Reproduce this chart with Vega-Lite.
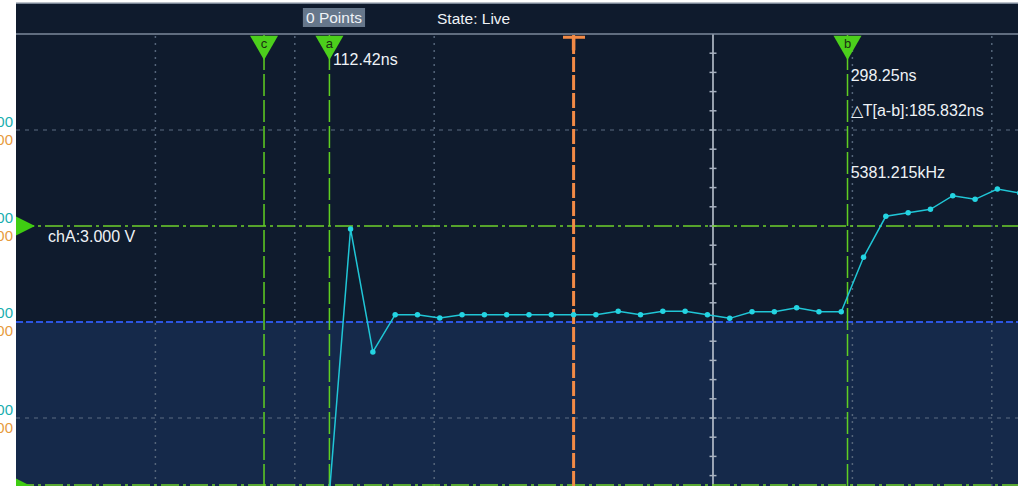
{
  "$schema": "https://vega.github.io/schema/vega-lite/v6.json",
  "width": 1002,
  "height": 483,
  "autosize": "none",
  "padding": {"left": 16, "top": 3, "right": 7, "bottom": 0},
  "background": "#ffffff",
  "config": {"view": {"fill": "#0f1b2d", "stroke": null}, "font": "Liberation Sans"},
  "datasets": {
    "signal": [
      {"t": 112, "v": 0.0625}, {"t": 120, "v": 2.969}, {"t": 128, "v": 1.6875}, {"t": 136, "v": 2.076},
      {"t": 144, "v": 2.076}, {"t": 152, "v": 2.042}, {"t": 160, "v": 2.076}, {"t": 168, "v": 2.076},
      {"t": 176, "v": 2.076}, {"t": 184, "v": 2.076}, {"t": 192, "v": 2.076}, {"t": 200, "v": 2.076},
      {"t": 208, "v": 2.076}, {"t": 216, "v": 2.111}, {"t": 224, "v": 2.076}, {"t": 232, "v": 2.111},
      {"t": 240, "v": 2.111}, {"t": 248, "v": 2.076}, {"t": 256, "v": 2.038}, {"t": 264, "v": 2.107},
      {"t": 272, "v": 2.107}, {"t": 280, "v": 2.149}, {"t": 288, "v": 2.107}, {"t": 296, "v": 2.107},
      {"t": 304, "v": 2.674}, {"t": 312, "v": 3.101}, {"t": 320, "v": 3.139}, {"t": 328, "v": 3.174},
      {"t": 336, "v": 3.316}, {"t": 344, "v": 3.278}, {"t": 352, "v": 3.385}, {"t": 360, "v": 3.344}
    ],
    "grid_t": [{"t": 50}, {"t": 100}, {"t": 150}, {"t": 300}, {"t": 350}],
    "grid_v": [{"v": 1}, {"v": 4}],
    "minor": [
      {"v": 0.4}, {"v": 0.6}, {"v": 0.8}, {"v": 1.0}, {"v": 1.2}, {"v": 1.4}, {"v": 1.6}, {"v": 1.8},
      {"v": 2.0}, {"v": 2.2}, {"v": 2.4}, {"v": 2.6}, {"v": 2.8}, {"v": 3.0}, {"v": 3.2}, {"v": 3.4},
      {"v": 3.6}, {"v": 3.8}, {"v": 4.0}, {"v": 4.2}, {"v": 4.4}, {"v": 4.6}, {"v": 4.8}
    ],
    "cursors": [{"label": "c", "t": 88.96}, {"label": "a", "t": 112.42}, {"label": "b", "t": 298.25}],
    "notes": [
      {"t": 113.7, "v": 4.729, "label": "112.42ns"},
      {"t": 299.4, "v": 4.5625, "label": "298.25ns"},
      {"t": 299.4, "v": 4.198, "label": "△T[a-b]:185.832ns"},
      {"t": 299.4, "v": 3.557, "label": "5381.215kHz"},
      {"t": 11.5, "v": 2.885, "label": "chA:3.000 V"}
    ],
    "header": [
      {"t": 104.0, "v": 5.165, "label": "0 Points"},
      {"t": 151.0, "v": 5.158, "label": "State: Live"}
    ],
    "labels_a": [
      {"v": 4.083, "label": "4.000"}, {"v": 3.083, "label": "3.000"},
      {"v": 2.094, "label": "2.000"}, {"v": 1.083, "label": "1.000"}
    ],
    "labels_b": [
      {"v": 3.896, "label": "4.000"}, {"v": 2.896, "label": "3.000"},
      {"v": 1.906, "label": "2.000"}, {"v": 0.896, "label": "1.000"}
    ]
  },
  "layer": [
    {
      "data": {"values": [{}]},
      "mark": {"type": "rect", "fill": "#15294a"},
      "encoding": {
        "x": {"datum": 0, "type": "quantitative", "scale": {"domain": [0, 359.4], "nice": false, "zero": false}, "axis": null},
        "x2": {"datum": 359.4},
        "y": {"datum": 0.29167, "type": "quantitative", "scale": {"domain": [0.29167, 5.32292], "nice": false, "zero": false}, "axis": null},
        "y2": {"datum": 2}
      }
    },
    {
      "data": {"name": "grid_t"},
      "mark": {"type": "rule", "stroke": "#55657a", "strokeWidth": 1.5, "strokeDash": [2, 5]},
      "encoding": {
        "x": {"field": "t", "type": "quantitative", "scale": {"domain": [0, 359.4], "nice": false, "zero": false}, "axis": null},
        "y": {"datum": 0.29167, "type": "quantitative", "scale": {"domain": [0.29167, 5.32292], "nice": false, "zero": false}, "axis": null},
        "y2": {"datum": 5.0}
      }
    },
    {
      "data": {"name": "grid_v"},
      "mark": {"type": "rule", "stroke": "#5d6d82", "strokeWidth": 1, "strokeDash": [4, 5]},
      "encoding": {
        "x": {"datum": 0, "type": "quantitative", "scale": {"domain": [0, 359.4], "nice": false, "zero": false}, "axis": null},
        "x2": {"datum": 359.4},
        "y": {"field": "v", "type": "quantitative", "scale": {"domain": [0.29167, 5.32292], "nice": false, "zero": false}, "axis": null}
      }
    },
    {
      "data": {"values": [{}]},
      "mark": {"type": "rule", "stroke": "#c5cdd8", "strokeWidth": 1.5},
      "encoding": {
        "x": {"datum": 250, "type": "quantitative", "scale": {"domain": [0, 359.4], "nice": false, "zero": false}, "axis": null},
        "y": {"datum": 0.29167, "type": "quantitative", "scale": {"domain": [0.29167, 5.32292], "nice": false, "zero": false}, "axis": null},
        "y2": {"datum": 5.0}
      }
    },
    {
      "data": {"name": "minor"},
      "mark": {"type": "rule", "stroke": "#a9b3c1", "strokeWidth": 1.5},
      "encoding": {
        "x": {"datum": 248.75, "type": "quantitative", "scale": {"domain": [0, 359.4], "nice": false, "zero": false}, "axis": null},
        "x2": {"datum": 251.25},
        "y": {"field": "v", "type": "quantitative", "scale": {"domain": [0.29167, 5.32292], "nice": false, "zero": false}, "axis": null}
      }
    },
    {
      "data": {"values": [{}]},
      "mark": {"type": "rule", "stroke": "#7d8a9b", "strokeWidth": 1.5},
      "encoding": {
        "x": {"datum": 0, "type": "quantitative", "scale": {"domain": [0, 359.4], "nice": false, "zero": false}, "axis": null},
        "x2": {"datum": 359.4},
        "y": {"datum": 5.0, "type": "quantitative", "scale": {"domain": [0.29167, 5.32292], "nice": false, "zero": false}, "axis": null}
      }
    },
    {
      "data": {"values": [{}]},
      "mark": {"type": "rule", "stroke": "#7a8696", "strokeWidth": 1.5},
      "encoding": {
        "x": {"datum": 0, "type": "quantitative", "scale": {"domain": [0, 359.4], "nice": false, "zero": false}, "axis": null},
        "x2": {"datum": 359.4},
        "y": {"datum": 5.3195, "type": "quantitative", "scale": {"domain": [0.29167, 5.32292], "nice": false, "zero": false}, "axis": null}
      }
    },
    {
      "data": {"values": [{}]},
      "mark": {"type": "rule", "stroke": "#2c55e3", "strokeWidth": 2, "strokeDash": [7, 3]},
      "encoding": {
        "x": {"datum": 0, "type": "quantitative", "scale": {"domain": [0, 359.4], "nice": false, "zero": false}, "axis": null},
        "x2": {"datum": 359.4},
        "y": {"datum": 2, "type": "quantitative", "scale": {"domain": [0.29167, 5.32292], "nice": false, "zero": false}, "axis": null}
      }
    },
    {
      "data": {"values": [{"v": 3}, {"v": 0.302}]},
      "mark": {"type": "rule", "stroke": "#6fd12b", "strokeWidth": 1.5, "strokeDash": [18, 4, 3, 4]},
      "encoding": {
        "x": {"datum": 0, "type": "quantitative", "scale": {"domain": [0, 359.4], "nice": false, "zero": false}, "axis": null},
        "x2": {"datum": 359.4},
        "y": {"field": "v", "type": "quantitative", "scale": {"domain": [0.29167, 5.32292], "nice": false, "zero": false}, "axis": null}
      }
    },
    {
      "data": {"name": "cursors"},
      "mark": {"type": "rule", "stroke": "#5fcf22", "strokeWidth": 1.5, "strokeDash": [22, 4]},
      "encoding": {
        "x": {"field": "t", "type": "quantitative", "scale": {"domain": [0, 359.4], "nice": false, "zero": false}, "axis": null},
        "y": {"datum": 0.29167, "type": "quantitative", "scale": {"domain": [0.29167, 5.32292], "nice": false, "zero": false}, "axis": null},
        "y2": {"datum": 4.99}
      }
    },
    {
      "data": {"values": [{}]},
      "mark": {"type": "rule", "stroke": "#f28a46", "strokeWidth": 3, "strokeDash": [15, 3]},
      "encoding": {
        "x": {"datum": 200, "type": "quantitative", "scale": {"domain": [0, 359.4], "nice": false, "zero": false}, "axis": null},
        "y": {"datum": 0.29167, "type": "quantitative", "scale": {"domain": [0.29167, 5.32292], "nice": false, "zero": false}, "axis": null},
        "y2": {"datum": 4.99}
      }
    },
    {
      "data": {"values": [{}]},
      "mark": {"type": "rule", "stroke": "#f28a46", "strokeWidth": 3},
      "encoding": {
        "x": {"datum": 196.2, "type": "quantitative", "scale": {"domain": [0, 359.4], "nice": false, "zero": false}, "axis": null},
        "x2": {"datum": 204.1},
        "y": {"datum": 4.966, "type": "quantitative", "scale": {"domain": [0.29167, 5.32292], "nice": false, "zero": false}, "axis": null}
      }
    },
    {
      "data": {"values": [{}]},
      "mark": {"type": "rule", "stroke": "#f28a46", "strokeWidth": 3.5},
      "encoding": {
        "x": {"datum": 200, "type": "quantitative", "scale": {"domain": [0, 359.4], "nice": false, "zero": false}, "axis": null},
        "y": {"datum": 4.83, "type": "quantitative", "scale": {"domain": [0.29167, 5.32292], "nice": false, "zero": false}, "axis": null},
        "y2": {"datum": 4.98}
      }
    },
    {
      "data": {"name": "cursors"},
      "mark": {"type": "point", "shape": "triangle-down", "filled": true, "fill": "#4ccf1c", "opacity": 1, "size": 784, "strokeWidth": 0},
      "encoding": {
        "x": {"field": "t", "type": "quantitative", "scale": {"domain": [0, 359.4], "nice": false, "zero": false}, "axis": null},
        "y": {"datum": 4.856, "type": "quantitative", "scale": {"domain": [0.29167, 5.32292], "nice": false, "zero": false}, "axis": null}
      }
    },
    {
      "data": {"name": "cursors"},
      "mark": {"type": "text", "color": "#1b2e12", "fontSize": 13, "align": "center", "baseline": "middle"},
      "encoding": {
        "x": {"field": "t", "type": "quantitative", "scale": {"domain": [0, 359.4], "nice": false, "zero": false}, "axis": null},
        "y": {"datum": 4.9, "type": "quantitative", "scale": {"domain": [0.29167, 5.32292], "nice": false, "zero": false}, "axis": null},
        "text": {"field": "label"}
      }
    },
    {
      "data": {"name": "signal"},
      "mark": {"type": "line", "stroke": "#20c6d6", "strokeWidth": 1.5, "clip": true},
      "encoding": {
        "x": {"field": "t", "type": "quantitative", "scale": {"domain": [0, 359.4], "nice": false, "zero": false}, "axis": null},
        "y": {"field": "v", "type": "quantitative", "scale": {"domain": [0.29167, 5.32292], "nice": false, "zero": false}, "axis": null}
      }
    },
    {
      "data": {"name": "signal"},
      "mark": {"type": "point", "filled": true, "fill": "#24d4e2", "opacity": 1, "size": 30, "strokeWidth": 0, "clip": true},
      "encoding": {
        "x": {"field": "t", "type": "quantitative", "scale": {"domain": [0, 359.4], "nice": false, "zero": false}, "axis": null},
        "y": {"field": "v", "type": "quantitative", "scale": {"domain": [0.29167, 5.32292], "nice": false, "zero": false}, "axis": null}
      }
    },
    {
      "data": {"name": "notes"},
      "mark": {"type": "text", "color": "#eef2f6", "fontSize": 16, "align": "left", "baseline": "middle"},
      "encoding": {
        "x": {"field": "t", "type": "quantitative", "scale": {"domain": [0, 359.4], "nice": false, "zero": false}, "axis": null},
        "y": {"field": "v", "type": "quantitative", "scale": {"domain": [0.29167, 5.32292], "nice": false, "zero": false}, "axis": null},
        "text": {"field": "label"}
      }
    },
    {
      "data": {"values": [{}]},
      "mark": {"type": "rect", "fill": "#66778b"},
      "encoding": {
        "x": {"datum": 102.9, "type": "quantitative", "scale": {"domain": [0, 359.4], "nice": false, "zero": false}, "axis": null},
        "x2": {"datum": 125.2},
        "y": {"datum": 5.073, "type": "quantitative", "scale": {"domain": [0.29167, 5.32292], "nice": false, "zero": false}, "axis": null},
        "y2": {"datum": 5.27}
      }
    },
    {
      "data": {"name": "header"},
      "mark": {"type": "text", "color": "#eef2f6", "fontSize": 15.5, "align": "left", "baseline": "middle"},
      "encoding": {
        "x": {"field": "t", "type": "quantitative", "scale": {"domain": [0, 359.4], "nice": false, "zero": false}, "axis": null},
        "y": {"field": "v", "type": "quantitative", "scale": {"domain": [0.29167, 5.32292], "nice": false, "zero": false}, "axis": null},
        "text": {"field": "label"}
      }
    },
    {
      "data": {"name": "labels_a"},
      "mark": {"type": "text", "color": "#1aaeb0", "fontSize": 15, "align": "right", "baseline": "middle"},
      "encoding": {
        "x": {"datum": -1.08, "type": "quantitative", "scale": {"domain": [0, 359.4], "nice": false, "zero": false}, "axis": null},
        "y": {"field": "v", "type": "quantitative", "scale": {"domain": [0.29167, 5.32292], "nice": false, "zero": false}, "axis": null},
        "text": {"field": "label"}
      }
    },
    {
      "data": {"name": "labels_b"},
      "mark": {"type": "text", "color": "#e79b3d", "fontSize": 15, "align": "right", "baseline": "middle"},
      "encoding": {
        "x": {"datum": -1.08, "type": "quantitative", "scale": {"domain": [0, 359.4], "nice": false, "zero": false}, "axis": null},
        "y": {"field": "v", "type": "quantitative", "scale": {"domain": [0.29167, 5.32292], "nice": false, "zero": false}, "axis": null},
        "text": {"field": "label"}
      }
    },
    {
      "data": {"values": [{"v": 3}, {"v": 0.27}]},
      "mark": {"type": "point", "shape": "M0,-1L2,0L0,1Z", "filled": true, "fill": "#3fcc12", "opacity": 1, "size": 361, "strokeWidth": 0},
      "encoding": {
        "x": {"datum": 0, "type": "quantitative", "scale": {"domain": [0, 359.4], "nice": false, "zero": false}, "axis": null},
        "y": {"field": "v", "type": "quantitative", "scale": {"domain": [0.29167, 5.32292], "nice": false, "zero": false}, "axis": null}
      }
    }
  ]
}
